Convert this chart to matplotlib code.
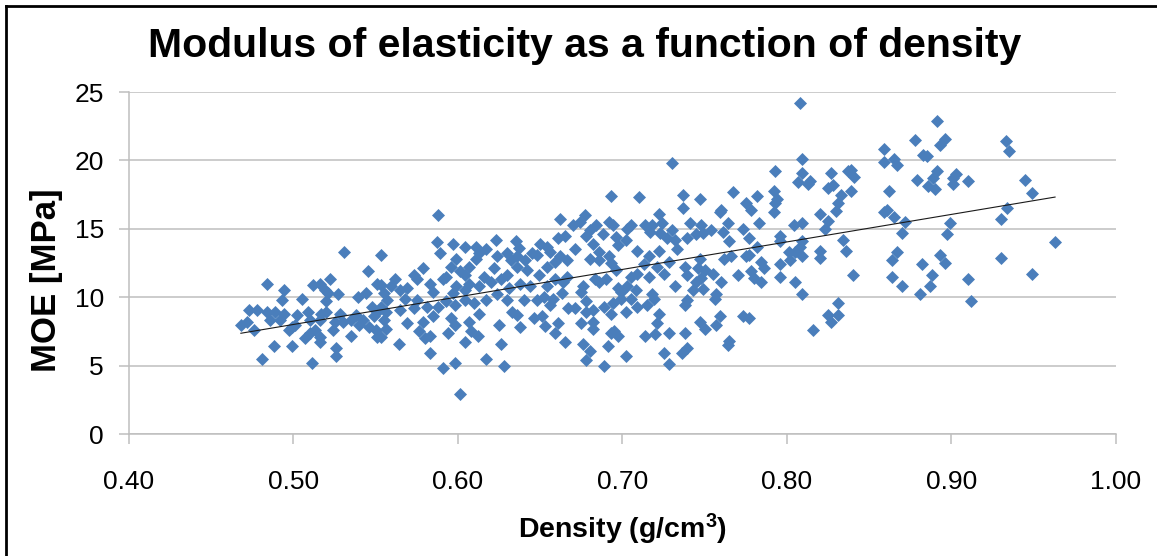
import numpy as np
import matplotlib
matplotlib.use("Agg")
import matplotlib.pyplot as plt
from matplotlib.lines import Line2D

# Density (g/cm3) and MOE (MPa) of each specimen
density = [
    0.933, 0.935, 0.945, 0.949, 0.934, 0.930, 0.963, 0.930, 0.949,
    0.891, 0.878, 0.896, 0.893, 0.859, 0.859, 0.865, 0.867, 0.883, 0.885,
    0.891, 0.879, 0.889, 0.886, 0.890, 0.903, 0.901, 0.901, 0.910, 0.841,
    0.839, 0.839, 0.862, 0.861, 0.859, 0.865, 0.872, 0.870, 0.899, 0.897,
    0.867, 0.864, 0.893, 0.896, 0.882, 0.840, 0.864, 0.870, 0.888, 0.887,
    0.881, 0.910, 0.912,
    0.808, 0.809, 0.793, 0.809, 0.807, 0.813, 0.814, 0.827, 0.837, 0.825,
    0.828, 0.833, 0.831, 0.830, 0.825, 0.823, 0.820, 0.792, 0.794, 0.793,
    0.792, 0.767, 0.782, 0.775, 0.778, 0.760, 0.759, 0.747, 0.783, 0.804,
    0.809, 0.764, 0.761, 0.754, 0.748, 0.749, 0.773, 0.777, 0.765, 0.796,
    0.796, 0.809, 0.808, 0.782, 0.834, 0.836, 0.820, 0.820, 0.801, 0.805,
    0.802, 0.809, 0.775, 0.777, 0.766, 0.762, 0.747, 0.784, 0.786, 0.796,
    0.778, 0.780, 0.784, 0.770, 0.755, 0.750, 0.748, 0.760, 0.749, 0.796,
    0.805, 0.809, 0.757, 0.756, 0.831, 0.759, 0.757, 0.747, 0.750, 0.773,
    0.777, 0.825, 0.831, 0.827, 0.816, 0.765, 0.764,
    0.693, 0.710, 0.737, 0.737, 0.662, 0.677, 0.670, 0.674, 0.692, 0.694,
    0.684, 0.680, 0.678, 0.705, 0.703, 0.714, 0.718, 0.722, 0.724, 0.717,
    0.723, 0.730, 0.727, 0.741, 0.739, 0.745, 0.665, 0.661, 0.654, 0.650,
    0.671, 0.688, 0.682, 0.696, 0.702, 0.697, 0.686, 0.692, 0.686, 0.693,
    0.680, 0.662, 0.666, 0.659, 0.656, 0.709, 0.722, 0.733, 0.716, 0.713,
    0.721, 0.728, 0.738, 0.746, 0.745, 0.739, 0.732, 0.743, 0.725, 0.716,
    0.709, 0.705, 0.696, 0.703, 0.708, 0.718, 0.719, 0.697, 0.699, 0.690,
    0.686, 0.676, 0.675, 0.683, 0.666, 0.664, 0.659, 0.654, 0.663, 0.658,
    0.656, 0.652, 0.651, 0.653, 0.661, 0.659, 0.665, 0.667, 0.671, 0.678,
    0.678, 0.682, 0.675, 0.682, 0.682, 0.676, 0.680, 0.678, 0.689, 0.694,
    0.693, 0.702, 0.695, 0.697, 0.693, 0.691, 0.702, 0.689, 0.709, 0.715,
    0.722, 0.721, 0.714, 0.720, 0.728, 0.739, 0.738, 0.738, 0.739, 0.736,
    0.725, 0.728, 0.699, 0.705, 0.732, 0.730,
    0.588, 0.587, 0.589, 0.597, 0.604, 0.599, 0.553, 0.579, 0.573, 0.562,
    0.569, 0.559, 0.555, 0.553, 0.553, 0.557, 0.583, 0.585, 0.591, 0.596,
    0.601, 0.607, 0.613, 0.611, 0.617, 0.623, 0.624, 0.622, 0.616, 0.607,
    0.613, 0.620, 0.630, 0.636, 0.635, 0.637, 0.636, 0.642, 0.648, 0.645,
    0.654, 0.649, 0.644, 0.638, 0.631, 0.626, 0.624, 0.617, 0.610, 0.604,
    0.598, 0.593, 0.588, 0.581, 0.575, 0.573, 0.568, 0.565, 0.569, 0.556,
    0.553, 0.579, 0.585, 0.576, 0.583, 0.580, 0.564, 0.583, 0.591, 0.598,
    0.601, 0.594, 0.598, 0.596, 0.604, 0.608, 0.612, 0.607, 0.613, 0.625,
    0.626, 0.617, 0.628, 0.633, 0.638, 0.636, 0.646, 0.640, 0.648, 0.630,
    0.604, 0.599, 0.597, 0.641, 0.630, 0.632, 0.611, 0.604, 0.593, 0.575,
    0.565,
    0.531, 0.545, 0.484, 0.494, 0.512, 0.516, 0.522, 0.519, 0.521, 0.527,
    0.505, 0.493, 0.520, 0.539, 0.544, 0.551, 0.473, 0.478, 0.484, 0.489,
    0.494, 0.492, 0.486, 0.468, 0.472, 0.476, 0.502, 0.509, 0.517, 0.520,
    0.510, 0.516, 0.499, 0.501, 0.525, 0.528, 0.530, 0.535, 0.538, 0.542,
    0.540, 0.546, 0.550, 0.551, 0.555, 0.556, 0.548, 0.549, 0.552, 0.510,
    0.507, 0.513, 0.516, 0.516, 0.524, 0.526, 0.526, 0.535, 0.499, 0.488,
    0.481, 0.511, 0.497,
]
moe = [
    21.4, 20.7, 18.6, 17.6, 16.5, 15.7, 14.0, 12.9, 11.7,
    22.9, 21.5, 21.6, 21.1, 20.8, 19.9, 20.1, 19.7, 20.4, 20.3,
    19.2, 18.6, 18.7, 18.1, 17.9, 19.0, 18.7, 18.3, 18.5, 18.8,
    19.3, 17.8, 17.8, 16.4, 16.2, 15.9, 15.5, 14.7, 15.4, 14.6,
    13.3, 12.7, 13.1, 12.5, 12.4, 11.6, 11.5, 10.8, 11.6, 10.8,
    10.2, 11.3, 9.7,
    24.2, 20.1, 19.2, 19.1, 18.4, 18.3, 18.5, 19.1, 19.2, 18.0,
    18.2, 17.5, 16.9, 16.3, 15.6, 15.0, 16.1, 17.8, 17.2, 16.9,
    16.2, 17.7, 17.4, 16.9, 16.4, 16.4, 16.2, 17.2, 15.4, 15.3,
    15.4, 15.4, 14.8, 14.9, 15.3, 14.7, 15.0, 14.3, 14.1, 14.5,
    14.1, 14.1, 13.7, 13.7, 14.2, 13.4, 13.4, 12.9, 13.3, 13.3,
    12.7, 13.0, 13.0, 13.1, 13.0, 12.8, 12.8, 12.6, 12.1, 12.4,
    11.9, 11.4, 11.1, 11.6, 11.7, 12.0, 11.4, 11.1, 10.6, 11.5,
    11.1, 10.2, 10.2, 9.9, 9.6, 8.6, 8.0, 8.2, 7.7, 8.6,
    8.5, 8.7, 8.7, 8.2, 7.6, 6.8, 6.5,
    17.4, 17.3, 17.5, 16.5, 15.7, 16.0, 15.3, 15.5, 15.5, 15.3,
    15.3, 14.9, 14.5, 15.3, 15.0, 15.3, 15.3, 16.1, 15.4, 14.8,
    14.7, 14.9, 14.3, 15.4, 14.3, 14.6, 14.5, 14.3, 13.7, 13.9,
    13.5, 14.6, 13.9, 14.4, 14.2, 13.8, 13.3, 13.0, 12.7, 12.5,
    12.8, 13.0, 12.7, 12.6, 13.3, 13.4, 13.4, 13.5, 13.0, 12.4,
    12.2, 12.6, 12.2, 12.1, 11.1, 11.6, 10.8, 10.5, 11.7, 11.5,
    11.7, 11.5, 12.0, 10.8, 10.5, 10.2, 9.9, 10.7, 10.4, 11.3,
    11.1, 10.8, 10.4, 11.3, 11.5, 11.1, 11.3, 10.8, 10.3, 9.9,
    9.4, 10.0, 8.6, 7.9, 8.1, 7.4, 6.7, 9.2, 9.2, 9.7,
    8.9, 9.1, 8.1, 8.2, 7.7, 6.6, 6.1, 5.4, 9.3, 9.6,
    8.8, 8.9, 7.5, 7.2, 7.4, 6.4, 5.7, 5.0, 9.3, 9.4,
    8.8, 8.1, 7.2, 7.3, 7.4, 9.8, 9.4, 7.4, 6.3, 5.9,
    5.9, 5.1, 9.9, 9.9, 14.2, 19.8,
    16.0, 14.0, 13.2, 13.9, 13.7, 12.8, 13.1, 12.1, 11.6, 11.3,
    10.7, 10.8, 10.3, 10.9, 9.3, 9.8, 11.0, 10.4, 11.3, 12.2,
    11.9, 12.2, 13.2, 12.8, 13.5, 14.2, 13.0, 12.1, 11.5, 11.0,
    10.8, 11.1, 11.6, 12.2, 14.1, 13.6, 13.0, 12.0, 13.1, 13.2,
    12.2, 11.6, 10.8, 11.0, 10.7, 11.3, 10.2, 9.8, 9.6, 9.8,
    9.4, 9.7, 9.3, 9.3, 9.8, 9.2, 9.9, 9.1, 8.1, 7.7,
    7.1, 8.2, 8.6, 7.5, 7.2, 7.0, 6.6, 5.9, 4.8, 5.2,
    2.9, 7.4, 8.0, 8.5, 6.7, 7.5, 7.2, 8.2, 8.8, 8.0,
    6.6, 5.5, 5.0, 8.9, 7.8, 8.7, 8.5, 9.8, 9.8, 9.8,
    10.5, 10.8, 10.3, 12.7, 13.2, 12.7, 13.7, 11.6, 11.5, 11.3,
    10.5,
    13.3, 11.9, 11.0, 10.5, 10.9, 11.0, 11.3, 10.5, 10.3, 10.2,
    9.9, 9.8, 9.7, 10.0, 10.3, 11.0, 9.1, 9.1, 8.9, 8.9,
    8.8, 8.3, 8.3, 8.0, 8.2, 7.6, 8.7, 8.9, 8.8, 8.9,
    8.3, 8.3, 7.8, 8.0, 8.2, 8.8, 8.2, 8.3, 8.7, 8.3,
    8.0, 7.8, 7.6, 7.1, 8.3, 8.9, 9.3, 8.6, 9.1, 7.4,
    7.0, 7.6, 7.1, 6.7, 7.6, 6.3, 5.7, 7.2, 6.4, 6.4,
    5.5, 5.2, 7.6,
]

x_ticks = [0.40, 0.50, 0.60, 0.70, 0.80, 0.90, 1.00]
y_ticks = [0, 5, 10, 15, 20, 25]

plt.rcParams['font.family'] = ['Liberation Sans', 'DejaVu Sans']
plt.rcParams['mathtext.fontset'] = 'custom'
plt.rcParams['mathtext.bf'] = 'Liberation Sans:bold'
plt.rcParams['mathtext.rm'] = 'Liberation Sans'

fig = plt.figure(figsize=(11.57, 5.56), dpi=100)
ax = fig.add_axes([0.1115, 0.2194, 0.853, 0.6151])

ax.scatter(density, moe, marker='D', s=44, color='#4A7EBB', linewidths=0, zorder=3)

# linear trendline
k, b = np.polyfit(density, moe, 1)
xs = np.array([min(density), max(density)])
ax.plot(xs, k * xs + b, color='#1a1a1a', lw=0.8, zorder=4)

ax.set_xlim(0.40, 1.00)
ax.set_ylim(0, 25)
ax.set_xticks(x_ticks)
ax.set_xticklabels([f"{t:.2f}" for t in x_ticks])
ax.set_yticks(y_ticks)

ax.grid(axis='y', color='#BEBEBE', lw=1.1, zorder=0)
ax.set_axisbelow(True)
for side in ['top', 'right']:
    ax.spines[side].set_visible(False)
for side in ['left', 'bottom']:
    ax.spines[side].set_color('#BEBEBE')
    ax.spines[side].set_linewidth(1.1)
ax.tick_params(axis='both', direction='out', length=7, width=1.1,
               color='#BEBEBE', labelsize=19, labelcolor='black')
ax.tick_params(axis='y', pad=11)
ax.tick_params(axis='x', pad=19)

ax.set_xlabel("Density (g/cm$\\mathbf{^{3}}$)", fontsize=20.5, fontweight='bold', labelpad=13)
ax.set_ylabel("MOE [MPa]", fontsize=25, fontweight='bold')
ax.yaxis.set_label_coords(-0.067, 0.45)

fig.text(0.505, 0.8975, "Modulus of elasticity as a function of density",
         ha='center', va='baseline', fontsize=29.5, fontweight='bold')

# chart frame (left and top edges visible)
fig.add_artist(Line2D([0.0055, 0.0055], [0, 0.989], transform=fig.transFigure,
                      color='black', lw=2))
fig.add_artist(Line2D([0.0055, 1], [0.989, 0.989], transform=fig.transFigure,
                      color='black', lw=2))

fig.savefig("out.png", dpi=100)
